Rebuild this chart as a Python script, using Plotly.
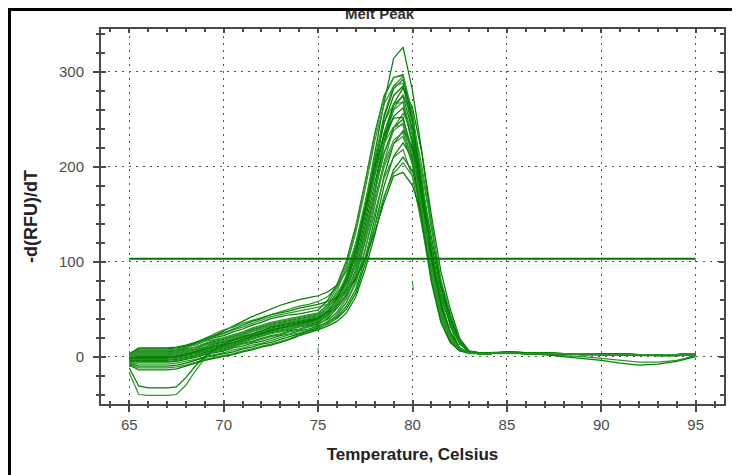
import plotly.graph_objects as go

# Temperature axis (Celsius) at which the melt-peak derivative was sampled
temperature = [65, 65.5, 66, 66.5, 67, 67.5, 68, 68.5, 69, 69.5, 70,
               70.5, 71, 71.5, 72, 72.5, 73, 73.5, 74, 74.5, 75,
               75.5, 76, 76.5, 77, 77.5, 78, 78.5, 79, 79.5,
               80, 80.5, 81, 81.5, 82, 82.5,
               83, 83.5, 84, 85, 86, 87, 88, 89, 90, 91, 92, 93, 94, 95]

# -d(RFU)/dT per well
well_01 = [2, 6, 6, 6, 6, 7, 10, 14, 18, 22, 27, 32, 37, 42, 46, 50, 54, 57, 60, 62, 64,
           68, 75, 90, 118, 160, 215, 268, 314, 326, 280, 215, 140, 75, 32, 8,
           4, 4, 4, 5, 4, 4, 3, 3, 2, 2, 2, 2, 2, 3]
well_02 = [0, 4, 4, 4, 4, 5, 9, 14, 19, 24, 28, 31, 35, 38, 41, 44, 47, 50, 53, 55, 58,
           63, 73, 90, 118, 155, 195, 232, 260, 268, 232, 170, 105, 55, 24, 7,
           4, 3, 3, 4, 4, 3, 3, 3, 3, 2, 2, 2, 2, 2]
well_03 = [2, 8, 8, 8, 8, 9, 11, 14, 17, 20, 22, 26, 29, 33, 36, 40, 42, 44, 45, 47, 49,
           59, 76, 101, 138, 185, 235, 275, 294, 297, 246, 168, 94, 44, 18, 7,
           4, 3, 3, 4, 4, 3, 3, 3, 2, 2, 2, 2, 2, 3]
well_04 = [2, 7, 7, 7, 7, 8, 10, 12, 16, 18, 20, 23, 26, 30, 33, 36, 38, 40, 42, 44, 46,
           54, 66, 83, 113, 158, 208, 255, 285, 295, 256, 185, 114, 58, 26, 9,
           4, 4, 3, 5, 4, 3, 3, 3, 3, 2, 2, 1, 1, 2]
well_05 = [1, 5, 5, 5, 5, 6, 8, 10, 13, 16, 18, 21, 24, 28, 31, 34, 36, 38, 40, 42, 44,
           51, 64, 81, 111, 156, 205, 252, 282, 292, 253, 183, 113, 57, 25, 9,
           4, 3, 3, 4, 4, 4, 3, 3, 3, 2, 2, 2, 2, 3]
well_06 = [0, 3, 3, 3, 3, 4, 6, 8, 12, 14, 16, 19, 22, 26, 29, 32, 34, 36, 38, 40, 42,
           52, 69, 94, 131, 177, 227, 266, 285, 288, 238, 163, 91, 42, 18, 7,
           4, 3, 3, 4, 4, 3, 3, 2, 2, 2, 1, 1, 1, 2]
well_07 = [-1, 2, 2, 2, 2, 3, 5, 7, 10, 13, 15, 18, 21, 24, 27, 30, 32, 34, 36, 38, 40,
           45, 52, 64, 86, 125, 174, 227, 266, 283, 262, 214, 149, 90, 50, 19,
           6, 4, 3, 4, 4, 3, 3, 3, 3, 3, 2, 2, 2, 2]
well_08 = [-2, 1, 1, 1, 1, 2, 4, 6, 9, 12, 14, 17, 20, 23, 26, 29, 31, 33, 35, 37, 39,
           44, 51, 63, 84, 123, 170, 223, 261, 276, 250, 200, 138, 80, 42, 15,
           5, 4, 3, 4, 3, 3, 3, 2, 2, 2, 2, 1, 2, 3]
well_09 = [-2, 0, 0, 0, 0, 1, 3, 5, 8, 10, 12, 15, 18, 22, 25, 28, 30, 32, 34, 36, 38,
           45, 57, 73, 102, 144, 191, 236, 265, 274, 238, 172, 106, 54, 24, 9,
           4, 3, 3, 4, 4, 4, 3, 3, 3, 3, 2, 2, 2, 3]
well_10 = [-2, -1, -1, -1, -1, 0, 2, 4, 7, 9, 11, 14, 17, 21, 24, 27, 29, 31, 33, 35, 37,
           46, 62, 86, 120, 164, 210, 247, 266, 268, 222, 152, 85, 40, 17, 7,
           4, 3, 3, 3, 3, 3, 3, 2, 2, 2, 2, 2, 2, 2]
well_11 = [-3, -2, -2, -2, -2, -1, 1, 3, 6, 8, 10, 13, 16, 19, 22, 25, 27, 29, 32, 34, 36,
           43, 54, 70, 97, 138, 183, 226, 253, 262, 227, 164, 102, 52, 23, 8,
           4, 4, 3, 5, 4, 3, 3, 3, 2, 2, 2, 1, 1, 2]
well_12 = [-4, -3, -3, -3, -3, -2, 0, 2, 5, 7, 9, 12, 15, 18, 21, 24, 26, 28, 31, 33, 35,
           39, 46, 57, 77, 112, 157, 205, 241, 256, 238, 194, 135, 81, 46, 17,
           5, 4, 3, 4, 4, 3, 3, 3, 3, 2, 2, 2, 2, 3]
well_13 = [-4, -4, -4, -4, -4, -3, -1, 1, 4, 6, 8, 11, 14, 16, 19, 22, 24, 27, 29, 32, 34,
           40, 51, 66, 92, 131, 174, 215, 241, 250, 217, 157, 97, 50, 22, 8,
           4, 3, 3, 4, 3, 3, 3, 3, 2, 2, 2, 2, 2, 2]
well_14 = [-5, -5, -5, -5, -5, -4, -2, 0, 3, 5, 7, 10, 13, 15, 18, 21, 23, 26, 28, 31, 33,
           41, 56, 77, 109, 149, 191, 225, 242, 244, 202, 139, 78, 36, 15, 6,
           3, 3, 3, 4, 3, 3, 3, 2, 2, 2, 2, 2, 1, 2]
well_15 = [-5, -6, -6, -6, -6, -5, -3, -1, 2, 4, 6, 9, 11, 14, 16, 19, 22, 24, 27, 29, 32,
           36, 42, 53, 71, 104, 145, 191, 224, 238, 221, 181, 126, 76, 42, 16,
           5, 4, 3, 4, 4, 3, 3, 3, 2, 2, 2, 2, 2, 3]
well_16 = [-6, -8, -8, -8, -8, -7, -5, -3, 0, 2, 4, 7, 9, 12, 14, 17, 20, 23, 25, 28, 31,
           37, 47, 61, 85, 121, 162, 200, 224, 232, 202, 146, 90, 46, 21, 8,
           4, 3, 3, 4, 3, 3, 3, 2, 2, 2, 2, 2, 2, 2]
well_17 = [-7, -10, -10, -10, -10, -9, -7, -4, -1, 1, 3, 5, 8, 10, 13, 15, 18, 21, 24, 27, 30,
           34, 40, 50, 67, 98, 137, 180, 211, 225, 209, 171, 119, 72, 40, 16,
           5, 4, 4, 4, 4, 3, 3, 3, 3, 3, 2, 2, 2, 3]
well_18 = [-8, -12, -12, -12, -12, -11, -9, -6, -3, -1, 1, 3, 6, 8, 11, 13, 16, 19, 23, 26, 29,
           35, 44, 57, 80, 114, 152, 188, 210, 218, 189, 137, 85, 43, 19, 7,
           4, 3, 3, 4, 3, 3, 2, 2, 2, 2, 2, 2, 2, 2]
well_19 = [-9, -14, -14, -14, -14, -13, -10, -7, -4, -2, 0, 2, 5, 7, 10, 12, 15, 18, 22, 25, 28,
           32, 37, 46, 63, 92, 128, 168, 197, 210, 195, 160, 111, 67, 38, 15,
           5, 4, 3, 4, 4, 3, 3, 3, 3, 2, 2, 2, 2, 3]
well_20 = [1, 6, 6, 6, 6, 7, 9, 13, 18, 21, 24, 28, 31, 35, 38, 42, 44, 46, 48, 50, 52,
           55, 60, 67, 81, 105, 136, 169, 193, 204, 190, 155, 108, 65, 37, 14,
           5, 4, 3, 4, 3, 2, 1, 0, -2, -4, -6, -6, -4, 1]
well_21 = [3, 9, 9, 9, 9, 10, 12, 15, 19, 22, 25, 29, 33, 37, 40, 44, 46, 48, 51, 53, 55,
           58, 62, 69, 82, 103, 131, 163, 190, 194, 180, 148, 104, 62, 34, 13,
           5, 4, 3, 4, 3, 2, 0, -2, -4, -7, -9, -8, -5, 0]
well_22 = [-17, -40, -41, -41, -41, -40, -30, -15, -2, 6, 11, 14, 17, 20, 23, 26, 28, 30, 33, 35, 38,
           43, 52, 66, 90, 126, 166, 204, 228, 236, 205, 148, 92, 47, 21, 8,
           4, 3, 3, 4, 3, 3, 3, 2, 2, 2, 2, 2, 2, 2]
well_23 = [-12, -31, -33, -33, -33, -32, -22, -10, 0, 7, 12, 15, 18, 21, 24, 27, 30, 32, 35, 37, 40,
           47, 60, 82, 114, 156, 199, 234, 251, 252, 208, 143, 80, 37, 15, 6,
           4, 3, 3, 4, 3, 3, 3, 3, 2, 2, 2, 2, 2, 2]
well_24 = [1, 4, 4, 4, 4, 5, 7, 10, 14, 17, 19, 22, 25, 29, 32, 35, 37, 39, 41, 43, 45,
           55, 73, 98, 135, 183, 233, 273, 294, 296, 256, 186, 114, 58, 26, 9,
           4, 3, 3, 4, 4, 3, 3, 3, 2, 2, 2, 2, 2, 3]
well_25 = [-2, -1, -1, -1, -1, 0, 2, 5, 8, 11, 13, 17, 20, 24, 27, 31, 33, 35, 37, 39, 41,
           48, 61, 78, 107, 151, 200, 246, 275, 285, 247, 179, 110, 56, 25, 9,
           4, 3, 3, 5, 4, 3, 3, 3, 3, 2, 2, 2, 2, 2]
well_26 = [0, 2, 2, 2, 2, 3, 5, 8, 12, 15, 17, 20, 23, 27, 30, 33, 35, 37, 39, 41, 43,
           49, 59, 73, 98, 134, 175, 214, 238, 246, 214, 155, 95, 49, 22, 8,
           4, 3, 3, 4, 3, 3, 3, 3, 2, 2, 2, 2, 2, 2]

wells = [well_01, well_02, well_03, well_04, well_05, well_06, well_07, well_08,
         well_09, well_10, well_11, well_12, well_13, well_14, well_15, well_16,
         well_17, well_18, well_19, well_20, well_21, well_22, well_23, well_24,
         well_25, well_26]

# small stray fragments visible near 75 and 80 C
stray_x = [80.0, 80.05, None, 79.98, 80.0, None, 75.0, 75.0]
stray_y = [78, 70, None, 1, 3, None, 2, 10]

threshold_x = [65, 95]
threshold_y = [103, 103]

x_ticks = [65, 70, 75, 80, 85, 90, 95]
y_ticks = [0, 100, 200, 300]

GREENS = ["#008000", "#2f962f"]
AXIS = "#4a4a4a"
FONT = "Liberation Sans, Arial, sans-serif"

fig = go.Figure()
for i, w in enumerate(wells):
    fig.add_trace(go.Scatter(x=temperature, y=w, mode="lines",
                             line=dict(color=GREENS[i % 2], width=1.25),
                             showlegend=False, hoverinfo="skip"))
fig.add_trace(go.Scatter(x=stray_x, y=stray_y, mode="lines",
                         line=dict(color="#2f962f", width=1),
                         showlegend=False, hoverinfo="skip"))
fig.add_trace(go.Scatter(x=threshold_x, y=threshold_y, mode="lines",
                         line=dict(color="#007800", width=2.2),
                         showlegend=False, hoverinfo="skip"))
# invisible trace binding the overlay axes (outer tick marks + labels)
fig.add_trace(go.Scatter(x=[80], y=[0], mode="lines", xaxis="x2", yaxis="y2",
                         showlegend=False, hoverinfo="skip"))

XR = [63.5, 96.5]
YR = [-50, 345]

# page body has an 8px margin, so the figure is sized to fit the 740x475 window
fig.update_layout(
    width=732, height=467,
    margin=dict(l=93, r=16, t=21, b=71, autoexpand=False),
    paper_bgcolor="white", plot_bgcolor="white",
    font=dict(family=FONT, size=15, color="#444444"),
    xaxis=dict(range=XR, tickvals=x_ticks, showticklabels=False, automargin=False,
               showline=True, linecolor=AXIS, linewidth=1.5, mirror="allticks",
               ticks="inside", ticklen=4, tickcolor=AXIS, tickwidth=1.5,
               minor=dict(dtick=1, tick0=65, ticks="inside", ticklen=3,
                          tickcolor=AXIS, showgrid=False),
               showgrid=True, gridcolor="#555555", gridwidth=1, griddash="2px,5px",
               zeroline=False, fixedrange=True),
    yaxis=dict(range=YR, tickvals=y_ticks, showticklabels=False, automargin=False,
               showline=True, linecolor=AXIS, linewidth=1.5, mirror="allticks",
               ticks="inside", ticklen=5, tickcolor=AXIS, tickwidth=1.5,
               minor=dict(dtick=20, tick0=0, ticks="inside", ticklen=4,
                          tickcolor=AXIS, showgrid=False),
               showgrid=True, gridcolor="#555555", gridwidth=1, griddash="2px,5px",
               zeroline=False, fixedrange=True),
    xaxis2=dict(range=XR, overlaying="x", anchor="y2", side="bottom", automargin=False,
                tickvals=x_ticks, ticktext=[str(v) for v in x_ticks],
                ticks="outside", ticklen=7, tickcolor=AXIS, tickwidth=1.5,
                minor=dict(dtick=1, tick0=65, ticks="outside", ticklen=3,
                           tickcolor=AXIS, showgrid=False),
                showline=False, showgrid=False, zeroline=False,
                ticklabelstandoff=0,
                tickfont=dict(family=FONT, size=15, color="#4d4d4d"),
                title=dict(text="<b>Temperature, Celsius</b>",
                           font=dict(family=FONT, size=17, color="#222222"),
                           standoff=16),
                fixedrange=True),
    yaxis2=dict(range=YR, overlaying="y", anchor="x2", side="left", automargin=False,
                tickvals=y_ticks, ticktext=[str(v) for v in y_ticks],
                ticks="outside", ticklen=7, tickcolor=AXIS, tickwidth=1.5,
                minor=dict(dtick=20, tick0=0, ticks="outside", ticklen=4,
                           tickcolor=AXIS, showgrid=False),
                showline=False, showgrid=False, zeroline=False,
                ticklabelstandoff=6,
                tickfont=dict(family=FONT, size=15, color="#4d4d4d"),
                title=dict(text="<b>-d(RFU)/dT</b>",
                           font=dict(family=FONT, size=18, color="#222222"),
                           standoff=16),
                fixedrange=True),
    shapes=[dict(type="line", xref="paper", yref="paper",
                 x0=-0.1469, x1=-0.1469, y0=1.06, y1=-0.25,
                 line=dict(color="black", width=3))],
    annotations=[
        dict(text="<b>Melt Peak</b>", xref="paper", yref="paper",
             x=0.4478, y=1.042, xanchor="center", yanchor="middle",
             showarrow=False, font=dict(family=FONT, size=15, color="#333333")),
        dict(text=" ", xref="paper", yref="paper", x=-0.152, y=1.0565,
             xanchor="left", yanchor="top", width=760, height=3,
             bgcolor="black", borderpad=0, borderwidth=0, showarrow=False,
             font=dict(size=1)),
    ],
)

fig.write_html("out.html")
